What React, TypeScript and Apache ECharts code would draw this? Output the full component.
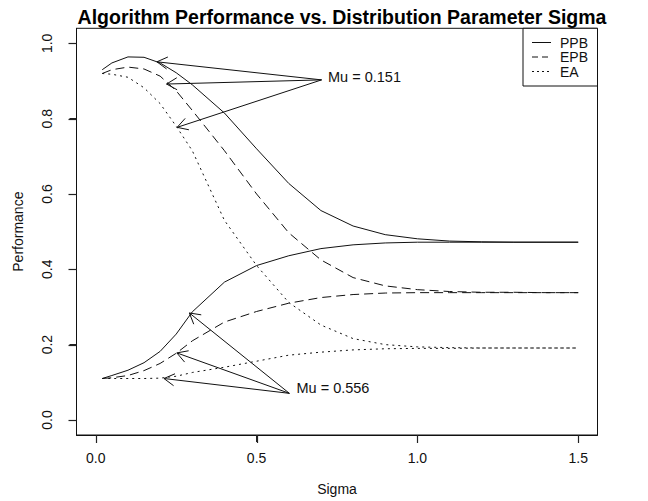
import React, { useEffect, useRef } from "react";
import * as echarts from "echarts";

// ---- data ----
const sigma = [0.02, 0.05, 0.1, 0.15, 0.2, 0.25, 0.3, 0.4, 0.5, 0.6, 0.7, 0.8, 0.9, 1.0, 1.1, 1.2, 1.3, 1.4, 1.5];

// Mu = 0.151
const ppbMuLow = [0.93, 0.948, 0.964, 0.963, 0.948, 0.922, 0.89, 0.815, 0.72, 0.628, 0.556, 0.515, 0.492, 0.481, 0.475, 0.473, 0.472, 0.472, 0.472];
const epbMuLow = [0.92, 0.93, 0.937, 0.932, 0.913, 0.874, 0.822, 0.715, 0.6, 0.497, 0.425, 0.378, 0.356, 0.346, 0.341, 0.339, 0.339, 0.338, 0.338];
const eaMuLow = [0.92, 0.918, 0.91, 0.882, 0.84, 0.78, 0.715, 0.53, 0.41, 0.312, 0.252, 0.216, 0.2, 0.194, 0.192, 0.191, 0.191, 0.191, 0.191];

// Mu = 0.556
const ppbMuHigh = [0.11, 0.118, 0.132, 0.152, 0.182, 0.228, 0.287, 0.366, 0.41, 0.436, 0.455, 0.465, 0.47, 0.472, 0.472, 0.472, 0.472, 0.472, 0.472];
const epbMuHigh = [0.11, 0.112, 0.118, 0.131, 0.15, 0.177, 0.21, 0.26, 0.288, 0.31, 0.325, 0.333, 0.337, 0.338, 0.338, 0.338, 0.338, 0.338, 0.338];
const eaMuHigh = [0.11, 0.11, 0.11, 0.11, 0.111, 0.116, 0.126, 0.14, 0.156, 0.172, 0.18, 0.186, 0.189, 0.19, 0.19, 0.191, 0.191, 0.191, 0.191];

const xTicks = [0, 0.5, 1.0, 1.5];
const yTicks = [0, 0.2, 0.4, 0.6, 0.8, 1.0];

const legendNames = ["PPB", "EPB", "EA"];

// annotations (data coordinates)
const annLabels = ["Mu = 0.151", "Mu = 0.556"];
const annTextPos = [[0.722, 0.912], [0.624, 0.086]];
const annOrigins = [[0.702, 0.903], [0.602, 0.0706]];
const annTipsLow = [[0.19, 0.951], [0.22, 0.892], [0.253, 0.777]];
const annTipsHigh = [[0.291, 0.284], [0.252, 0.178], [0.212, 0.11]];

// axis ranges (R style: data range extended by 4%)
const xRange = [-0.06, 1.56];
const yRange = [-0.04, 1.04];

const FONT = "'Liberation Sans', Arial, sans-serif";
const dashStyles: any[] = ["solid", [9, 5], [2, 4]];
const legendDash: any[] = [null, [6, 4], [2, 3]];

export default function App() {
  const ref = useRef<HTMLDivElement>(null);
  useEffect(() => {
    if (!ref.current) return;
    const chart = echarts.init(ref.current, null, { renderer: "svg" });

    const pairs = (vals: number[]) => sigma.map((s, i) => [s, vals[i]]);
    const groups = [
      [ppbMuLow, epbMuLow, eaMuLow],
      [ppbMuHigh, epbMuHigh, eaMuHigh],
    ];
    const lineSeries: any[] = [];
    groups.forEach((g) => {
      g.forEach((vals, k) => {
        lineSeries.push({
          type: "line",
          name: legendNames[k],
          data: pairs(vals),
          symbol: "none",
          showSymbol: false,
          lineStyle: { color: "#111", width: 1, type: dashStyles[k] },
          silent: true,
          z: 3,
        });
      });
    });

    const arrowData: number[][] = [];
    annTipsLow.forEach((t) => arrowData.push([annOrigins[0][0], annOrigins[0][1], t[0], t[1]]));
    annTipsHigh.forEach((t) => arrowData.push([annOrigins[1][0], annOrigins[1][1], t[0], t[1]]));

    const st = { stroke: "#111", lineWidth: 1, fill: null };

    const arrowSeries = {
      type: "custom",
      name: "arrows",
      silent: true,
      clip: false,
      data: arrowData,
      encode: { x: [0, 2], y: [1, 3] },
      renderItem: (params: any, api: any) => {
        const p0 = api.coord([api.value(0), api.value(1)]);
        const p1 = api.coord([api.value(2), api.value(3)]);
        const ang = Math.atan2(p0[1] - p1[1], p0[0] - p1[0]);
        const L = 12;
        const a = Math.PI / 6;
        const h1 = [p1[0] + L * Math.cos(ang + a), p1[1] + L * Math.sin(ang + a)];
        const h2 = [p1[0] + L * Math.cos(ang - a), p1[1] + L * Math.sin(ang - a)];
        return {
          type: "group",
          children: [
            { type: "line", shape: { x1: p0[0], y1: p0[1], x2: p1[0], y2: p1[1] }, style: st },
            { type: "line", shape: { x1: p1[0], y1: p1[1], x2: h1[0], y2: h1[1] }, style: st },
            { type: "line", shape: { x1: p1[0], y1: p1[1], x2: h2[0], y2: h2[1] }, style: st },
          ],
        };
      },
      z: 4,
    };

    // R-style outward tick marks: one vertex pair per tick, through the axes' scales
    const tickSeries: any[] = [];
    xTicks.forEach((v) => {
      tickSeries.push({
        type: "custom",
        name: "xtick",
        silent: true,
        clip: false,
        data: [[v, yRange[0]]],
        encode: { x: 0, y: 1 },
        renderItem: (params: any, api: any) => {
          const p = api.coord([api.value(0), api.value(1)]);
          const px = Math.round(p[0]) + 0.5;
          return {
            type: "line",
            shape: { x1: px, y1: p[1], x2: px, y2: p[1] + 8 },
            style: { stroke: "#222", lineWidth: 1.2 },
            z2: 100,
          };
        },
        z: 20,
      });
    });
    yTicks.forEach((v) => {
      tickSeries.push({
        type: "custom",
        name: "ytick",
        silent: true,
        clip: false,
        data: [[xRange[0], v]],
        encode: { x: 0, y: 1 },
        renderItem: (params: any, api: any) => {
          const p = api.coord([api.value(0), api.value(1)]);
          const py = Math.round(p[1]) + 0.5;
          return {
            type: "line",
            shape: { x1: p[0] - 8, y1: py, x2: p[0], y2: py },
            style: { stroke: "#222", lineWidth: 1.2 },
            z2: 100,
          };
        },
        z: 20,
      });
    });

    const textSeries = {
      type: "custom",
      name: "annotations",
      silent: true,
      clip: false,
      data: annTextPos.map((p, i) => [p[0], p[1], i]),
      renderItem: (params: any, api: any) => {
        const p = api.coord([api.value(0), api.value(1)]);
        return {
          type: "text",
          x: p[0],
          y: p[1],
          style: {
            text: annLabels[api.value(2)],
            fill: "#111",
            font: `14.5px ${FONT}`,
            align: "left",
            verticalAlign: "middle",
          },
        };
      },
      z: 5,
    };

    const gridLeft = 76.5;
    const gridRight = 50.5;
    const gridTop = 28.3;
    const boxRight = 648 - gridRight;
    const lgW = 74.5;
    const lgX = boxRight - lgW;
    const lgY = gridTop;
    const lgRows = [42.5, 57, 71.5];

    const legendGraphics: any[] = [
      { type: "rect", shape: { x: lgX, y: lgY, width: lgW, height: 57.7 }, style: { fill: "#fff", stroke: "#111", lineWidth: 1 }, z: 10 },
    ];
    legendNames.forEach((n, k) => {
      legendGraphics.push({
        type: "line",
        shape: { x1: lgX + 9, y1: lgRows[k], x2: lgX + 28, y2: lgRows[k] },
        style: { stroke: "#111", lineWidth: 1, lineDash: legendDash[k] },
        z: 11,
      });
      legendGraphics.push({
        type: "text",
        x: lgX + 37,
        y: lgRows[k],
        style: { text: n, fill: "#111", font: `14px ${FONT}`, lineHeight: 13, align: "left", verticalAlign: "middle" },
        z: 11,
      });
    });

    const axisLineStyle = { show: true, onZero: false, lineStyle: { color: "#111", width: 1 } };

    chart.setOption({
      animation: false,
      backgroundColor: "#fff",
      title: {
        text: "Algorithm Performance vs. Distribution Parameter Sigma",
        left: (gridLeft + boxRight) / 2,
        textAlign: "center",
        top: 2,
        textStyle: { fontFamily: FONT, fontWeight: "bold", fontSize: 19.5, color: "#000" },
      },
      grid: {
        left: gridLeft,
        right: gridRight,
        top: gridTop,
        bottom: 66,
        containLabel: false,
        outerBoundsMode: "none",
        show: true,
        borderColor: "#111",
        borderWidth: 1,
        backgroundColor: "transparent",
      },
      xAxis: {
        type: "value",
        min: xRange[0],
        max: xRange[1],
        name: "Sigma",
        nameLocation: "middle",
        nameGap: 47,
        nameTextStyle: { fontFamily: FONT, fontSize: 14, color: "#111" },
        axisLine: axisLineStyle,
        splitLine: { show: false },
        axisTick: { show: true, inside: false, customValues: xTicks, length: 7, lineStyle: { color: "#222", width: 1 } },
        axisLabel: {
          customValues: xTicks,
          formatter: (v: number) => v.toFixed(1),
          fontFamily: FONT,
          fontSize: 14,
          color: "#111",
          margin: 16,
        },
      },
      yAxis: {
        type: "value",
        min: yRange[0],
        max: yRange[1],
        name: "Performance",
        nameLocation: "middle",
        nameGap: 52,
        nameTextStyle: { fontFamily: FONT, fontSize: 14, color: "#111" },
        axisLine: axisLineStyle,
        splitLine: { show: false },
        axisTick: { show: true, inside: false, customValues: yTicks, length: 7, lineStyle: { color: "#222", width: 1 } },
        axisLabel: {
          customValues: yTicks,
          formatter: (v: number) => v.toFixed(1),
          rotate: 90,
          fontFamily: FONT,
          fontSize: 14,
          color: "#111",
          margin: 23,
        },
      },
      graphic: legendGraphics,
      series: [...lineSeries, arrowSeries, ...tickSeries, textSeries],
    });

    return () => chart.dispose();
  }, []);

  return <div ref={ref} style={{ width: 648, height: 501, position: "absolute", left: 0, top: 0 }} />;
}
